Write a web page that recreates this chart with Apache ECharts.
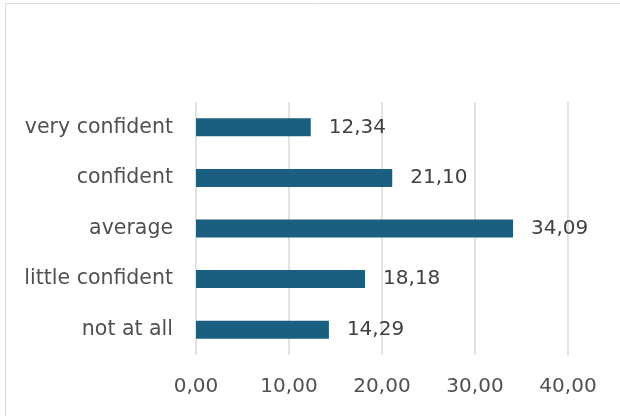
<!DOCTYPE html>
<html>
<head>
<meta charset="utf-8">
<script src="https://cdn.jsdelivr.net/npm/echarts@6/dist/echarts.min.js"></script>
<style>
  html, body { margin: 0; padding: 0; background: #ffffff; }
  #chart { width: 620px; height: 416px; }
</style>
</head>
<body>
<div id="chart"></div>
<script>
// Confidence levels, listed bottom to top as the category axis draws them
const categories = ['not at all', 'little confident', 'average', 'confident', 'very confident'];
const shares = [14.29, 18.18, 34.09, 21.10, 12.34];
const xTicks = [0, 10, 20, 30, 40];

const fmt = v => Number(v).toFixed(2).replace('.', ',');
const FONT = '"DejaVu Sans", sans-serif';
const TEXT = '#505050';

const chart = echarts.init(document.getElementById('chart'), null, { renderer: 'canvas' });
chart.setOption({
  backgroundColor: '#ffffff',
  animation: false,
  graphic: [{
    type: 'rect',
    shape: { x: 5.5, y: 3.5, width: 640, height: 440 },
    style: { fill: 'none', stroke: '#d9d9d9', lineWidth: 1 },
    silent: true
  }],
  grid: { left: 196, right: 52, top: 102, bottom: 61, containLabel: false },
  xAxis: {
    type: 'value',
    min: xTicks[0],
    max: xTicks[xTicks.length - 1],
    interval: 10,
    axisLine: { show: false },
    axisTick: { show: false },
    splitLine: { show: true, lineStyle: { color: '#d9d9d9', width: 1.5 } },
    axisLabel: {
      color: TEXT, fontFamily: FONT, fontSize: 20, margin: 22,
      formatter: fmt
    }
  },
  yAxis: {
    type: 'category',
    data: categories,
    axisLine: { show: false },
    axisTick: { show: false },
    axisLabel: { color: TEXT, fontFamily: FONT, fontSize: 20.5, margin: 23 }
  },
  series: [{
    type: 'bar',
    data: shares,
    barWidth: 18,
    itemStyle: { color: '#1a5f80' },
    label: {
      show: true, position: 'right', distance: 18,
      color: '#404040', fontFamily: FONT, fontSize: 20,
      formatter: p => fmt(p.value)
    }
  }]
});
</script>
</body>
</html>
